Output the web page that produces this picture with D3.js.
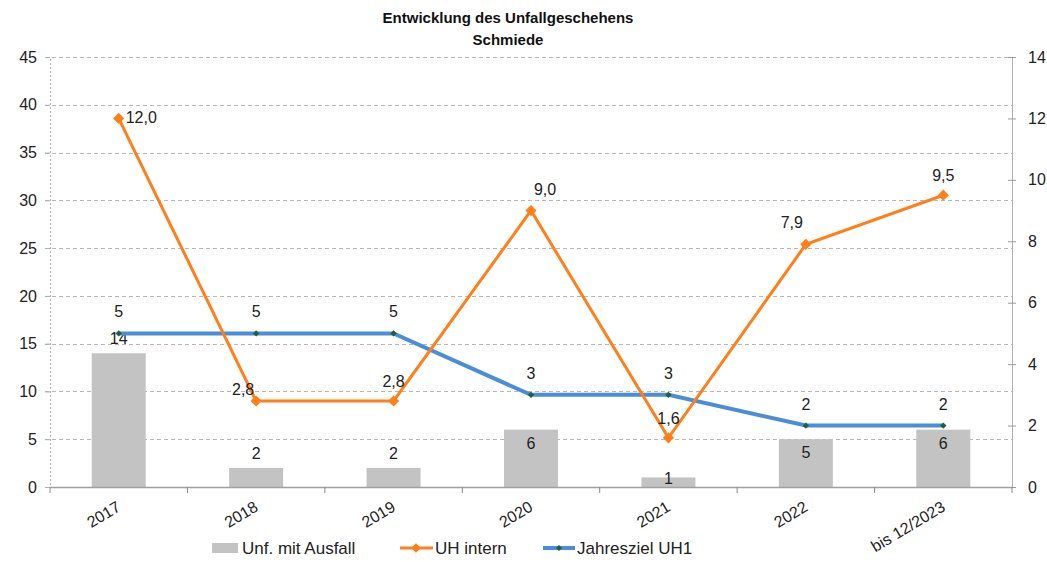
<!DOCTYPE html>
<html><head><meta charset="utf-8">
<script src="https://cdn.jsdelivr.net/npm/d3@7"></script>
<style>body{margin:0;background:#fff;font-family:"Liberation Sans",Arial,sans-serif}</style>
</head><body><svg id="c" width="1047" height="562"></svg>
<script>
const categories = ["2017","2018","2019","2020","2021","2022","bis 12/2023"];
const unfMitAusfall = [14,2,2,6,1,5,6];
const uhIntern = [12.0,2.8,2.8,9.0,1.6,7.9,9.5];
const jahreszielUH1 = [5,5,5,3,3,2,2];
const leftTicks = [0,5,10,15,20,25,30,35,40,45];
const rightTicks = [0,2,4,6,8,10,12,14];
const barLabelPlacement = ["above","above","above","inside","center","inside","inside"];
const uhLabelPlacement = ["right","left","top","topright","top","topleft","top"];

const svg = d3.select("#c");
const L=50, R=1012, T=57, B=487;
const x = d3.scaleBand().domain(categories).range([L,R]);
const yL = d3.scaleLinear().domain([0,45]).range([B,T]);
const yR = d3.scaleLinear().domain([0,14]).range([B,T]);
const font = '"Liberation Sans",Arial,sans-serif';
const FS = 16;

// title
svg.append("text").attr("x",508).attr("y",23).attr("text-anchor","middle").attr("font-weight","bold").attr("font-size",15).attr("font-family",font).attr("fill","#111").text("Entwicklung des Unfallgeschehens");
svg.append("text").attr("x",508).attr("y",45).attr("text-anchor","middle").attr("font-weight","bold").attr("font-size",15).attr("font-family",font).attr("fill","#111").text("Schmiede");

// grid
svg.append("g").selectAll("line").data(leftTicks.filter(d=>d>0)).join("line")
  .attr("x1",L-5).attr("x2",R).attr("y1",d=>Math.round(yL(d))+0.5).attr("y2",d=>Math.round(yL(d))+0.5)
  .attr("stroke","#b8b8b8").attr("stroke-dasharray","4,3").attr("stroke-width",1);

// left axis
const gL = svg.append("g").attr("transform",`translate(${L},0)`)
  .call(d3.axisLeft(yL).tickValues(leftTicks).tickSize(5).tickPadding(8));
gL.select(".domain").attr("stroke","#b0b0b0").attr("stroke-dasharray","2,2");
gL.selectAll(".tick line").attr("stroke","#b0b0b0");
gL.selectAll("text").attr("font-size",FS).attr("font-family",font).attr("fill","#222");

// right axis
const gR = svg.append("g").attr("transform",`translate(${R},0)`)
  .call(d3.axisRight(yR).tickValues(rightTicks).tickSizeInner(4).tickSizeOuter(0).tickPadding(12));
gR.select(".domain").attr("stroke","#b0b0b0");
gR.selectAll(".tick line").attr("stroke","#999").attr("x1",-4);
gR.selectAll("text").attr("font-size",FS).attr("font-family",font).attr("fill","#222");

// bars
const bw = 54;
svg.append("g").selectAll("rect").data(unfMitAusfall).join("rect")
  .attr("x",(d,i)=>x(categories[i])+x.bandwidth()/2-bw/2).attr("width",bw)
  .attr("y",d=>yL(d)).attr("height",d=>B-yL(d)).attr("fill","#c3c3c3");

// x axis
svg.append("line").attr("x1",L).attr("x2",R).attr("y1",B+0.5).attr("y2",B+0.5).attr("stroke","#a0a0a0").attr("stroke-width",1.5);
svg.append("g").selectAll("line").data(d3.range(categories.length+1)).join("line")
  .attr("x1",i=>L+i*x.step()).attr("x2",i=>L+i*x.step()).attr("y1",B).attr("y2",B+6).attr("stroke","#888");
svg.append("g").selectAll("text").data(categories).join("text")
  .attr("transform",d=>`translate(${x(d)+x.bandwidth()/2+3},${B+23}) rotate(-31)`)
  .attr("text-anchor","end").attr("font-size",FS).attr("font-family",font).attr("fill","#222").text(d=>d);

// bar labels
svg.append("g").selectAll("text").data(unfMitAusfall).join("text")
  .attr("x",(d,i)=>x(categories[i])+x.bandwidth()/2)
  .attr("y",(d,i)=>{const p=barLabelPlacement[i], top=yL(d); return p==="above"?top-9:p==="inside"?top+19:top+7;})
  .attr("text-anchor","middle").attr("font-size",FS).attr("font-family",font).attr("fill","#222").text(d=>d);

const cx = i=>x(categories[i])+x.bandwidth()/2;

// blue line
svg.append("path").datum(jahreszielUH1)
  .attr("d",d3.line().x((d,i)=>cx(i)).y(d=>yR(d)))
  .attr("fill","none").attr("stroke","#4a8ed6").attr("stroke-width",4);
svg.append("g").selectAll("path").data(jahreszielUH1).join("path")
  .attr("transform",(d,i)=>`translate(${cx(i)},${yR(d)})`)
  .attr("d",d3.symbol(d3.symbolDiamond2,26)).attr("fill","#1f5f45");
svg.append("g").selectAll("text").data(jahreszielUH1).join("text")
  .attr("x",(d,i)=>cx(i)).attr("y",d=>yR(d)-16)
  .attr("text-anchor","middle").attr("font-size",FS).attr("font-family",font).attr("fill","#222").text(d=>d);

// orange line
svg.append("path").datum(uhIntern)
  .attr("d",d3.line().x((d,i)=>cx(i)).y(d=>yR(d)))
  .attr("fill","none").attr("stroke","#ff7f1a").attr("stroke-width",3);
svg.append("g").selectAll("path").data(uhIntern).join("path")
  .attr("transform",(d,i)=>`translate(${cx(i)},${yR(d)})`)
  .attr("d",d3.symbol(d3.symbolDiamond2,80)).attr("fill","#ff7f1a");
const off = {right:[7,5,"start"],left:[-13,-6,"middle"],top:[0,-14,"middle"],topright:[14,-16,"middle"],topleft:[-14,-16,"middle"]};
svg.append("g").selectAll("text").data(uhIntern).join("text")
  .attr("x",(d,i)=>cx(i)+off[uhLabelPlacement[i]][0]).attr("y",(d,i)=>yR(d)+off[uhLabelPlacement[i]][1])
  .attr("text-anchor",(d,i)=>off[uhLabelPlacement[i]][2])
  .attr("font-size",FS).attr("font-family",font).attr("fill","#222").text(d=>d.toFixed(1).replace(".",","));

// legend
const ly = 548;
const lg = svg.append("g").attr("font-size",17).attr("font-family",font).attr("fill","#222");
lg.append("rect").attr("x",212).attr("y",ly-5).attr("width",26).attr("height",10).attr("fill","#c3c3c3");
lg.append("text").attr("x",242).attr("y",ly+6).text("Unf. mit Ausfall");
lg.append("line").attr("x1",400).attr("x2",433).attr("y1",ly).attr("y2",ly).attr("stroke","#ff7f1a").attr("stroke-width",3);
lg.append("path").attr("transform",`translate(416,${ly})`).attr("d",d3.symbol(d3.symbolDiamond2,60)).attr("fill","#ff7f1a");
lg.append("text").attr("x",435).attr("y",ly+6).text("UH intern");
lg.append("line").attr("x1",543).attr("x2",575).attr("y1",ly).attr("y2",ly).attr("stroke","#4a8ed6").attr("stroke-width",4);
lg.append("path").attr("transform",`translate(559,${ly})`).attr("d",d3.symbol(d3.symbolDiamond2,22)).attr("fill","#1f5f45");
lg.append("text").attr("x",577).attr("y",ly+6).text("Jahresziel UH1");
</script></body></html>
